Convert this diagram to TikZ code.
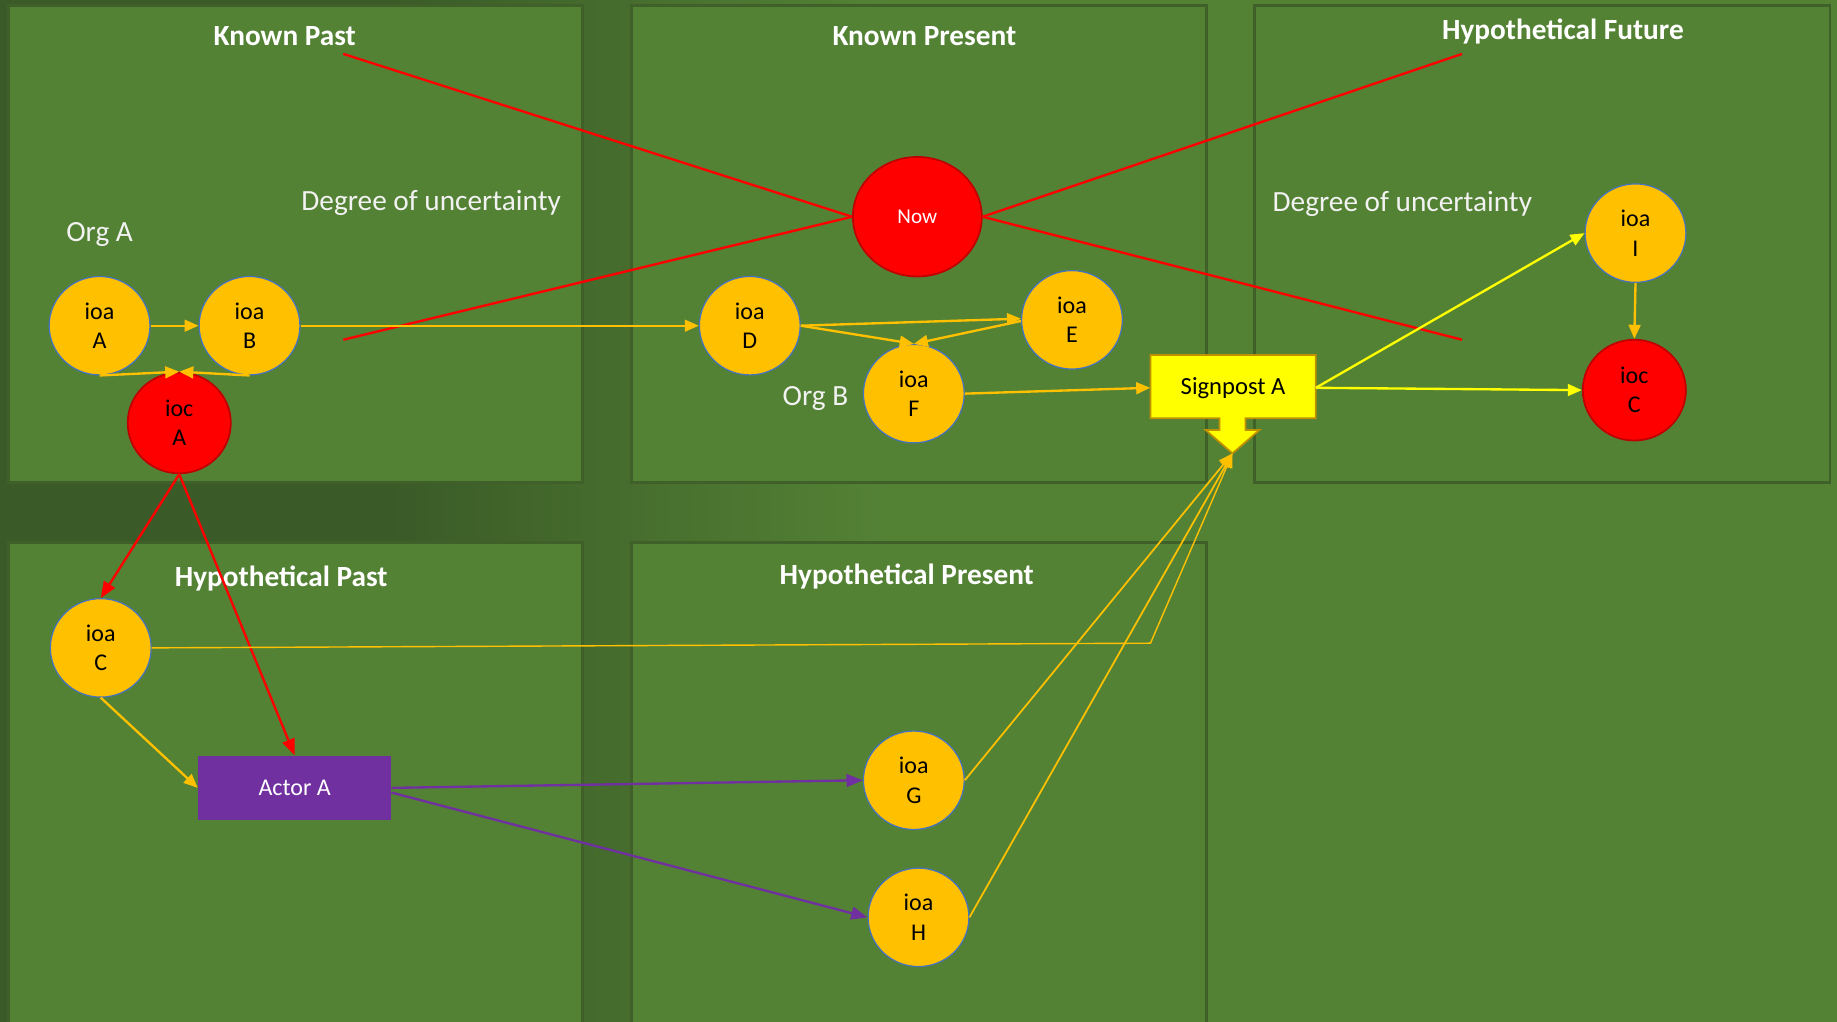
\documentclass[tikz,border=0pt]{standalone}
\usepackage{fontspec}
\setmainfont{Carlito}
\usetikzlibrary{arrows.meta,shapes.geometric}
\definecolor{bggreen}{HTML}{548235}
\definecolor{bgdark}{HTML}{3A5A27}
\definecolor{panelline}{HTML}{3F6129}
\definecolor{gold}{HTML}{FFC000}
\definecolor{ioaline}{HTML}{4472C4}
\definecolor{iocline}{HTML}{C00000}
\definecolor{purp}{HTML}{7030A0}
\definecolor{sigline}{HTML}{BF9000}
\definecolor{brightyel}{HTML}{FFFF00}
\definecolor{softwhite}{HTML}{F2F2F2}
\begin{document}
\begin{tikzpicture}[x=1pt,y=-1pt,
  panel/.style={fill=bggreen,draw=panelline,line width=2.5pt},
  title/.style={text=white,font=\fontsize{25}{30}\selectfont\bfseries},
  lbl/.style={text=softwhite,font=\fontsize{25}{30}\selectfont},
  ioa/.style={ellipse,fill=gold,draw=ioaline,line width=1pt,minimum width=86pt,minimum height=84pt,inner sep=0pt,align=center,font=\fontsize{20.5}{25}\selectfont},
  ioc/.style={ioa,fill=red,draw=iocline,line width=1.5pt,minimum width=88pt,minimum height=86pt},
  garrow/.style={draw=gold,line width=2pt,-{Triangle[length=12pt,width=10pt]}},
  thinarrow/.style={draw=gold,line width=1.5pt,-{Triangle[length=12pt,width=10pt]}},
  yarrow/.style={draw=brightyel,line width=2pt,-{Triangle[length=12pt,width=10pt]}},
  rarrow/.style={draw=red,line width=2pt,-{Triangle[length=14pt,width=11pt]}},
  parrow/.style={draw=purp,line width=2pt,-{Triangle[length=14pt,width=11pt]}},
  redline/.style={draw=red,line width=2pt}
]
\useasboundingbox (0,0) rectangle (1568,872);
% background
\fill[bggreen] (0,0) rectangle (1568,872);
\fill[bgdark] (0,0) rectangle (330,872);
\shade[left color=bgdark,right color=bggreen] (329,0) rectangle (760,872);
% panels
\draw[panel] (7,5) rectangle (497,412);
\draw[panel] (539,5) rectangle (1030,412);
\draw[panel] (1071,5) rectangle (1562,412);
\draw[panel] (7,463) rectangle (497,880);
\draw[panel] (539,463) rectangle (1030,880);
% titles
\node[title] (tkp) at (243,31) {Known Past};
\node[title] (tkpr) at (789,31) {Known Present};
\node[title] (thf) at (1334,27) {Hypothetical Future};
\node[title] (thp) at (240,494) {Hypothetical Past};
\node[title] (thpr) at (774,492) {Hypothetical Present};
% labels
\node[lbl] (du1) at (368,173) {Degree of uncertainty};
\node[lbl] (du2) at (1197,174) {Degree of uncertainty};
\node[lbl] (orga) at (85,200) {Org A};
\node[lbl] (orgb) at (696,340) {Org B};
% nodes
\node[ioc,minimum width=110pt,minimum height=102pt,font=\fontsize{18}{22}\selectfont,text=white] (now) at (783,185) {Now};
\node[ioa] (ioaA) at (85,278) {ioa\\A};
\node[ioa] (ioaB) at (213,278) {ioa\\B};
\node[ioc] (iocA) at (153,361) {ioc\\A};
\node[ioa] (ioaD) at (640,278) {ioa\\D};
\node[ioa] (ioaE) at (915,273) {ioa\\E};
\node[ioa] (ioaF) at (780,336) {ioa\\F};
\node[ioa] (ioaI) at (1396,199) {ioa\\I};
\node[ioc] (iocC) at (1395,333) {ioc\\C};
\node[ioa] (ioaC) at (86,553) {ioa\\C};
\node[ioa] (ioaG) at (780,666) {ioa\\G};
\node[ioa] (ioaH) at (784,783) {ioa\\H};
\node[fill=purp,minimum width=165pt,minimum height=55pt,inner sep=0pt,text=white,font=\fontsize{20.5}{25}\selectfont] (actor) at (251.5,672.5) {Actor A};
% signpost
\coordinate (sptip) at (1052,387);
\draw[fill=brightyel,draw=sigline,line width=1.5pt,line join=miter]
  (982,303) -- (1123,303) -- (1123,357) -- (1063,357) -- (1063,367) -- (1075,367)
  -- (sptip) -- (1029,367) -- (1041,367) -- (1041,357) -- (982,357) -- cycle;
\node[minimum width=141pt,minimum height=54pt,inner sep=0pt,font=\fontsize{21}{25}\selectfont] (sp) at (1052.5,331) {Signpost A};
% red uncertainty lines
\coordinate (rl1) at (293,46);
\coordinate (rl2) at (293,290);
\coordinate (rl3) at (1248,46);
\coordinate (rl4) at (1248,290);
\draw[redline] (rl1) -- (now.west);
\draw[redline] (rl2) -- (now.west);
\draw[redline] (now.east) -- (rl3);
\draw[redline] (now.east) -- (rl4);
% connectors
\draw[garrow] (ioaA) -- (ioaB);
\draw[garrow] (ioaB.east) -- (ioaD.west);
\draw[garrow] (ioaA.south) -- (iocA.north);
\draw[garrow] (ioaB.south) -- (iocA.north);
\draw[rarrow] (iocA.south) -- (ioaC.north);
\draw[rarrow] (iocA.south) -- (actor.north);
\draw[garrow] (ioaC.south) -- (actor.west);
\coordinate (bend) at (982,549);
\draw[draw=gold,line width=1.2pt,-{Triangle[length=12pt,width=10pt]}] (ioaC.east) -- (bend) -- (sptip);
\draw[thinarrow] (ioaG.east) -- (sptip);
\draw[thinarrow] (ioaH.east) -- (sptip);
\draw[parrow] (actor.east) -- (ioaG.west);
\draw[parrow] ([yshift=-4pt]actor.east) -- (ioaH.west);
\draw[garrow] (ioaD.east) -- ([yshift=1pt]ioaE.west);
\draw[garrow] (ioaD.east) -- (ioaF.north);
\draw[garrow] ([yshift=-1pt]ioaE.west) -- (ioaF.north);
\draw[garrow] (ioaF.east) -- (sp.west);
\draw[yarrow] (sp.east) -- (ioaI.west);
\draw[yarrow] (sp.east) -- (iocC.west);
\draw[garrow] (ioaI.south) -- (iocC.north);
\end{tikzpicture}
\end{document}
